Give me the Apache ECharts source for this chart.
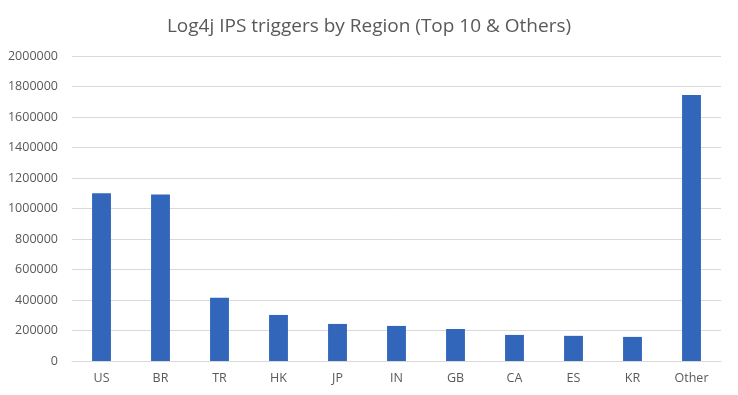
<!DOCTYPE html>
<html>
<head>
<meta charset="utf-8">
<script src="https://cdn.jsdelivr.net/npm/echarts@6/dist/echarts.min.js"></script>
<style>
html, body { margin: 0; padding: 0; background: #fff; }
#main { width: 738px; height: 395px; }
</style>
</head>
<body>
<div id="main"></div>
<script>
// regions and trigger counts
var regions = ['US', 'BR', 'TR', 'HK', 'JP', 'IN', 'GB', 'CA', 'ES', 'KR', 'Other'];
var triggers = [1100000, 1092000, 415000, 302000, 243000, 230000, 210000, 171000, 165000, 158000, 1745000];

var myChart = echarts.init(document.getElementById('main'));
myChart.setOption({
	animation : false,
	title : {
		text : 'Log4j IPS triggers by Region (Top 10 & Others)',
		left : 'center',
		top : 12,
		textStyle : {
			fontFamily : 'Open Sans',
			fontSize : 19,
			fontWeight : 'normal',
			color : '#595959'
		}
	},
	grid : {
		left : 72,
		right : 17,
		top : 56,
		bottom : 34
	},
	xAxis : {
		type : 'category',
		data : regions,
		axisLine : { lineStyle : { color : '#d9d9d9' } },
		axisTick : { show : false },
		axisLabel : {
			fontFamily : 'Open Sans',
			fontSize : 12.5,
			color : '#595959',
			margin : 11
		}
	},
	yAxis : {
		type : 'value',
		min : 0,
		max : 2000000,
		interval : 200000,
		axisLine : { show : false },
		axisTick : { show : false },
		splitLine : { lineStyle : { color : '#d9d9d9' } },
		axisLabel : {
			fontFamily : 'Open Sans',
			fontSize : 12.5,
			color : '#595959',
			margin : 14,
			formatter : function(v) {
				return String(v);
			}
		}
	},
	series : [ {
		type : 'bar',
		data : triggers,
		barWidth : '32%',
		itemStyle : { color : '#3166ba' }
	} ]
});
</script>
</body>
</html>
